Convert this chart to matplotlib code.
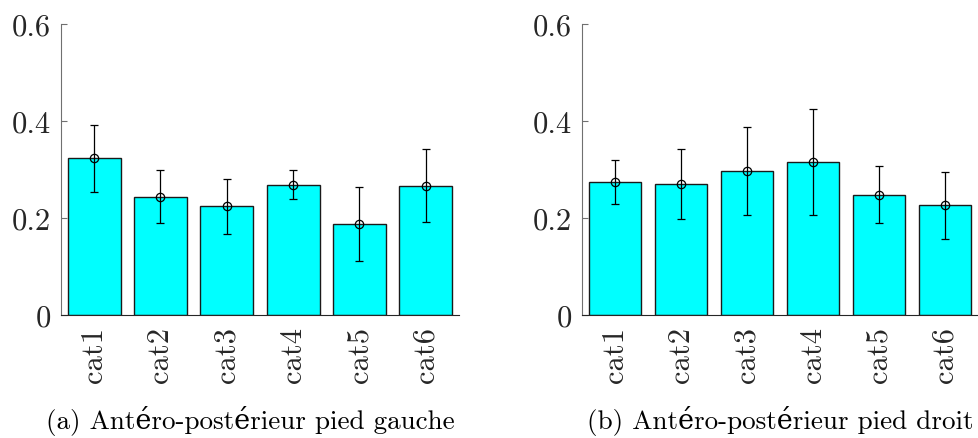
import matplotlib.pyplot as plt
import numpy as np

plt.rcParams['font.family'] = ['cmr10', 'DejaVu Serif']
plt.rcParams['axes.formatter.use_mathtext'] = True

categories = ['cat1', 'cat2', 'cat3', 'cat4', 'cat5', 'cat6']

# left panel: pied gauche
gauche_mean = [0.323, 0.244, 0.224, 0.269, 0.188, 0.267]
gauche_err = [0.069, 0.055, 0.056, 0.029, 0.076, 0.075]

# right panel: pied droit
droit_mean = [0.274, 0.270, 0.297, 0.315, 0.248, 0.226]
droit_err = [0.046, 0.072, 0.090, 0.109, 0.059, 0.069]

captions = ['(a) Antéro-postérieur pied gauche', '(b) Antéro-postérieur pied droit']
yticks = [0, 0.2, 0.4, 0.6]
ytick_labels = ['0', '0.2', '0.4', '0.6']

fig = plt.figure(figsize=(9.79, 4.39), dpi=100)
ax1 = fig.add_axes([61/979, 123/439, 398/979, 291/439])
ax2 = fig.add_axes([582/979, 123/439, 396/979, 291/439])

x = np.arange(1, len(categories) + 1)
for ax, m, e in [(ax1, gauche_mean, gauche_err), (ax2, droit_mean, droit_err)]:
    ax.bar(x, m, width=0.8, color='#00ffff', edgecolor='#1a1a1a', linewidth=1)
    ax.errorbar(x, m, yerr=e, fmt='o', mfc='none', mec='black', ms=6, mew=0.9,
                ecolor='black', elinewidth=0.9, capsize=3, capthick=0.9)
    ax.set_xlim(0.5, 6.5)
    ax.set_ylim(0, 0.6)
    ax.set_yticks(yticks)
    ax.set_yticklabels(ytick_labels)
    ax.set_xticks(x)
    ax.set_xticklabels(categories, rotation=90)
    ax.spines['top'].set_visible(False)
    ax.spines['right'].set_visible(False)
    ax.spines['left'].set_color('#707070')
    ax.spines['bottom'].set_color('#262626')
    ax.tick_params(axis='y', direction='in', length=4, color='#707070',
                   labelsize=22, labelcolor='#262626', pad=7)
    ax.tick_params(axis='x', length=0, labelsize=22, labelcolor='#262626', pad=8)

fig.text(250/979, 1 - 421/439, captions[0], ha='center', va='center',
         fontsize=19.5, color='black')
fig.text(780/979, 1 - 421/439, captions[1], ha='center', va='center',
         fontsize=19.5, color='black')

fig.savefig('out.png', dpi=100)
